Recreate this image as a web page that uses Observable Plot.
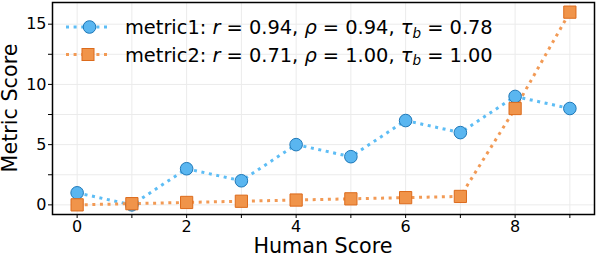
<!DOCTYPE html>
<html>
<head>
<meta charset="utf-8">
<script src="https://cdn.jsdelivr.net/npm/d3@7"></script>
<script src="https://cdn.jsdelivr.net/npm/@observablehq/plot@0.6"></script>
<style>
  html, body { margin: 0; padding: 0; background: #fff; }
  svg { font-family: "DejaVu Sans", sans-serif; }
</style>
</head>
<body>
<div id="chart"></div>
<script>
const humanScore = [0, 1, 2, 3, 4, 5, 6, 7, 8, 9];
const metric1 = [1, 0, 3, 2, 5, 4, 7, 6, 9, 8];
const metric2 = [0, 0.1, 0.2, 0.3, 0.4, 0.5, 0.6, 0.7, 8, 16];
const xTicks = [0, 2, 4, 6, 8];
const xMinor = [1, 3, 5, 7, 9];
const yTicks = [0, 5, 10, 15];
const yMinor = [2.5, 7.5, 12.5];
const legend1 = {name: "metric1", r: "0.94", rho: "0.94", tau: "0.78"};
const legend2 = {name: "metric2", r: "0.71", rho: "1.00", tau: "1.00"};

const d1 = humanScore.map((x, i) => ({x, y: metric1[i]}));
const d2 = humanScore.map((x, i) => ({x, y: metric2[i]}));

const blueLine = "#5dbdf5", blueFill = "#5ab6f0", blueStroke = "#1f78b8";
const orangeLine = "#f29a55", orangeFill = "#f0944a", orangeStroke = "#dc6b1c";

const chart = Plot.plot({
  width: 596,
  height: 254,
  marginLeft: 52,
  marginRight: 2,
  marginTop: 2,
  marginBottom: 40,
  x: {domain: [-0.45, 9.45]},
  y: {domain: [-0.8, 16.8]},
  marks: [
    Plot.gridX(humanScore, {stroke: "#ebebeb", strokeOpacity: 1, strokeWidth: 1}),
    Plot.gridY([...yTicks, ...yMinor], {stroke: "#ebebeb", strokeOpacity: 1, strokeWidth: 1}),
    Plot.line(d1, {x: "x", y: "y", stroke: blueLine, strokeWidth: 3, strokeDasharray: "3,4.6", strokeLinecap: "butt"}),
    Plot.line(d2, {x: "x", y: "y", stroke: orangeLine, strokeWidth: 3, strokeDasharray: "3,4.6", strokeLinecap: "butt"}),
    Plot.dot(d1, {x: "x", y: "y", r: 6.3, fill: blueFill, stroke: blueStroke, strokeWidth: 1}),
    Plot.dot(d2, {x: "x", y: "y", symbol: "square", r: 6.9, fill: orangeFill, stroke: orangeStroke, strokeWidth: 1}),
    Plot.axisX(xTicks, {tickSize: 4, tickPadding: 2, fontSize: 16, label: null, stroke: "#000", color: "#000"}),
    Plot.axisX(xMinor, {tickSize: 4, tickFormat: () => "", label: null, stroke: "#000"}),
    Plot.axisY(yTicks, {tickSize: 4, tickPadding: 2, fontSize: 16, label: null, stroke: "#000", color: "#000"}),
    Plot.axisY(yMinor, {tickSize: 4, tickFormat: () => "", label: null, stroke: "#000"}),
    Plot.frame({stroke: "#000", strokeWidth: 1.5})
  ]
});

document.getElementById("chart").appendChild(chart);
const svg = d3.select(chart);
const frameLeft = 52, frameRight = 594, frameTop = 2, frameBottom = 214;

// axis labels
svg.append("text")
  .attr("x", (frameLeft + frameRight) / 2).attr("y", 253)
  .attr("text-anchor", "middle").attr("font-size", 20.7).attr("fill", "#000")
  .text("Human Score");
svg.append("text")
  .attr("transform", `translate(${16.5},${(frameTop + frameBottom) / 2}) rotate(-90)`)
  .attr("text-anchor", "middle")
  .attr("font-size", 20.7).attr("fill", "#000")
  .text("Metric Score");

// legend
function legendRow(item, y, lineColor, fill, stroke, square, fs) {
  const g = svg.append("g");
  g.append("line").attr("x1", 66).attr("x2", 108).attr("y1", y).attr("y2", y)
    .attr("stroke", lineColor).attr("stroke-width", 3).attr("stroke-dasharray", "3,4.6");
  if (square) {
    g.append("rect").attr("x", 88 - 6).attr("y", y - 6).attr("width", 12).attr("height", 12)
      .attr("fill", fill).attr("stroke", stroke);
  } else {
    g.append("circle").attr("cx", 89.5).attr("cy", y).attr("r", 6.3)
      .attr("fill", fill).attr("stroke", stroke);
  }
  const t = g.append("text").attr("x", 125).attr("y", y + 7)
    .attr("text-anchor", "start")
    .attr("font-size", fs).attr("fill", "#000");
  t.append("tspan").text(item.name + ": ");
  t.append("tspan").attr("font-style", "italic").text("r");
  t.append("tspan").text(" = " + item.r + ", ");
  t.append("tspan").attr("font-style", "italic").text("ρ");
  t.append("tspan").text(" = " + item.rho + ", ");
  t.append("tspan").attr("font-style", "italic").text("τ");
  t.append("tspan").attr("font-style", "italic").attr("font-size", fs * 0.7).attr("dy", fs * 0.2).text("b");
  t.append("tspan").attr("dy", -fs * 0.2).text(" = " + item.tau);
  return t;
}
// measure at a nominal size, then fit the first row to its width in the reference (~368px)
const probe = legendRow(legend1, -100, blueLine, blueFill, blueStroke, false, 18);
const w = probe.node().getComputedTextLength();
probe.node().parentNode.remove();
const fs = Math.max(16, Math.min(21, 18 * 368 / w));
legendRow(legend1, 27, blueLine, blueFill, blueStroke, false, fs);
legendRow(legend2, 54.5, orangeLine, orangeFill, orangeStroke, true, fs);
</script>
</body>
</html>
